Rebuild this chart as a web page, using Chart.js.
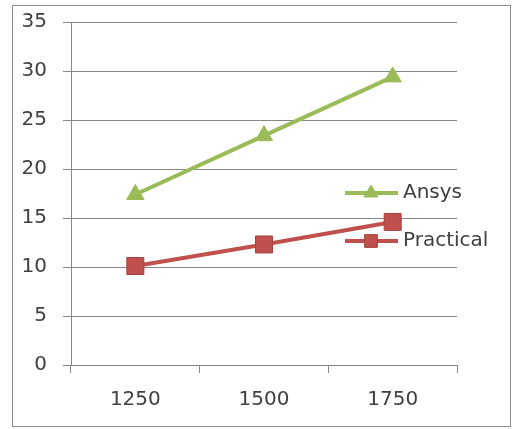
<!DOCTYPE html>
<html>
<head>
<meta charset="utf-8">
<script src="https://cdn.jsdelivr.net/npm/chart.js@4"></script>
<style>
  html, body { margin: 0; padding: 0; background: #fff; }
  #box {
    position: absolute; left: 12px; top: 5px;
    width: 497px; height: 420px;
    border: 1px solid #8c8c8c;
  }
  canvas { display: block; }
</style>
</head>
<body>
<div id="box"><canvas id="lineChart" width="497" height="420"></canvas></div>
<script>
const categories = ['1250', '1500', '1750'];
const ansys = [17.4, 23.4, 29.4];
const practical = [10.1, 12.3, 14.6];
const yTicks = [0, 5, 10, 15, 20, 25, 30, 35];

const font = { family: 'DejaVu Sans', size: 20 };
const textColor = '#404040';
const gridColor = '#878787';

// legend sits inside the plot area, like the Excel original
const insideLegend = {
  id: 'insideLegend',
  afterDraw(chart) {
    const ctx = chart.ctx;
    const area = chart.chartArea;
    const x0 = area.right - 112;
    const rows = [area.top + 171, area.top + 219];
    chart.data.datasets.forEach((ds, i) => {
      const y = rows[i];
      ctx.save();
      ctx.strokeStyle = ds.borderColor;
      ctx.lineWidth = ds.borderWidth;
      ctx.beginPath();
      ctx.moveTo(x0, y);
      ctx.lineTo(x0 + 53, y);
      ctx.stroke();
      ctx.fillStyle = ds.pointBackgroundColor;
      ctx.strokeStyle = ds.pointBorderColor;
      ctx.lineWidth = 1;
      Chart.helpers.drawPoint(ctx, {
        pointStyle: ds.pointStyle, radius: ds.pointStyle === 'rect' ? 9 : 8,
        borderWidth: 1
      }, x0 + 26, y);
      ctx.restore();
      ctx.save();
      ctx.fillStyle = textColor;
      ctx.font = font.size + 'px ' + font.family;
      ctx.textBaseline = 'middle';
      ctx.fillText(ds.label, x0 + 58, y);
      ctx.restore();
    });
  }
};

const ctx = document.getElementById('lineChart').getContext('2d');
const lineChart = new Chart(ctx, {
  type: 'line',
  data: {
    labels: categories,
    datasets: [{
      label: 'Ansys',
      data: ansys,
      borderColor: '#9BBB59',
      backgroundColor: '#9BBB59',
      pointBackgroundColor: '#9BBB59',
      pointBorderColor: '#9BBB59',
      borderWidth: 4,
      pointStyle: 'triangle',
      pointRadius: 10,
      pointBorderWidth: 1
    }, {
      label: 'Practical',
      data: practical,
      borderColor: '#C0504D',
      backgroundColor: '#C0504D',
      pointBackgroundColor: '#C0504D',
      pointBorderColor: '#A8403D',
      borderWidth: 4,
      pointStyle: 'rect',
      pointRadius: 12,
      pointBorderWidth: 1
    }]
  },
  options: {
    responsive: false,
    animation: false,
    layout: { padding: { left: 0, right: 53, top: 16, bottom: 15 } },
    plugins: {
      legend: { display: false },
      tooltip: { enabled: false }
    },
    scales: {
      x: {
        offset: true,
        clip: false,
        grid: {
          offset: true,
          drawOnChartArea: false,
          drawTicks: true,
          tickLength: 8,
          color: gridColor
        },
        border: { display: true, color: gridColor, width: 1 },
        ticks: { color: textColor, font: font, padding: 15, maxRotation: 0 },
        afterFit(scale) { scale.height = 46; }
      },
      y: {
        min: 0,
        max: 35,
        clip: false,
        afterBuildTicks(scale) { scale.ticks = yTicks.map(v => ({ value: v })); },
        grid: { color: gridColor, tickLength: 8, drawTicks: true },
        border: { display: true, color: gridColor, width: 1 },
        ticks: { color: textColor, font: font, padding: 16 },
        afterFit(scale) {
          scale.width = 58;
          scale.paddingTop = 0;
          scale.paddingBottom = 0;
        }
      }
    }
  },
  plugins: [insideLegend]
});
</script>
</body>
</html>
